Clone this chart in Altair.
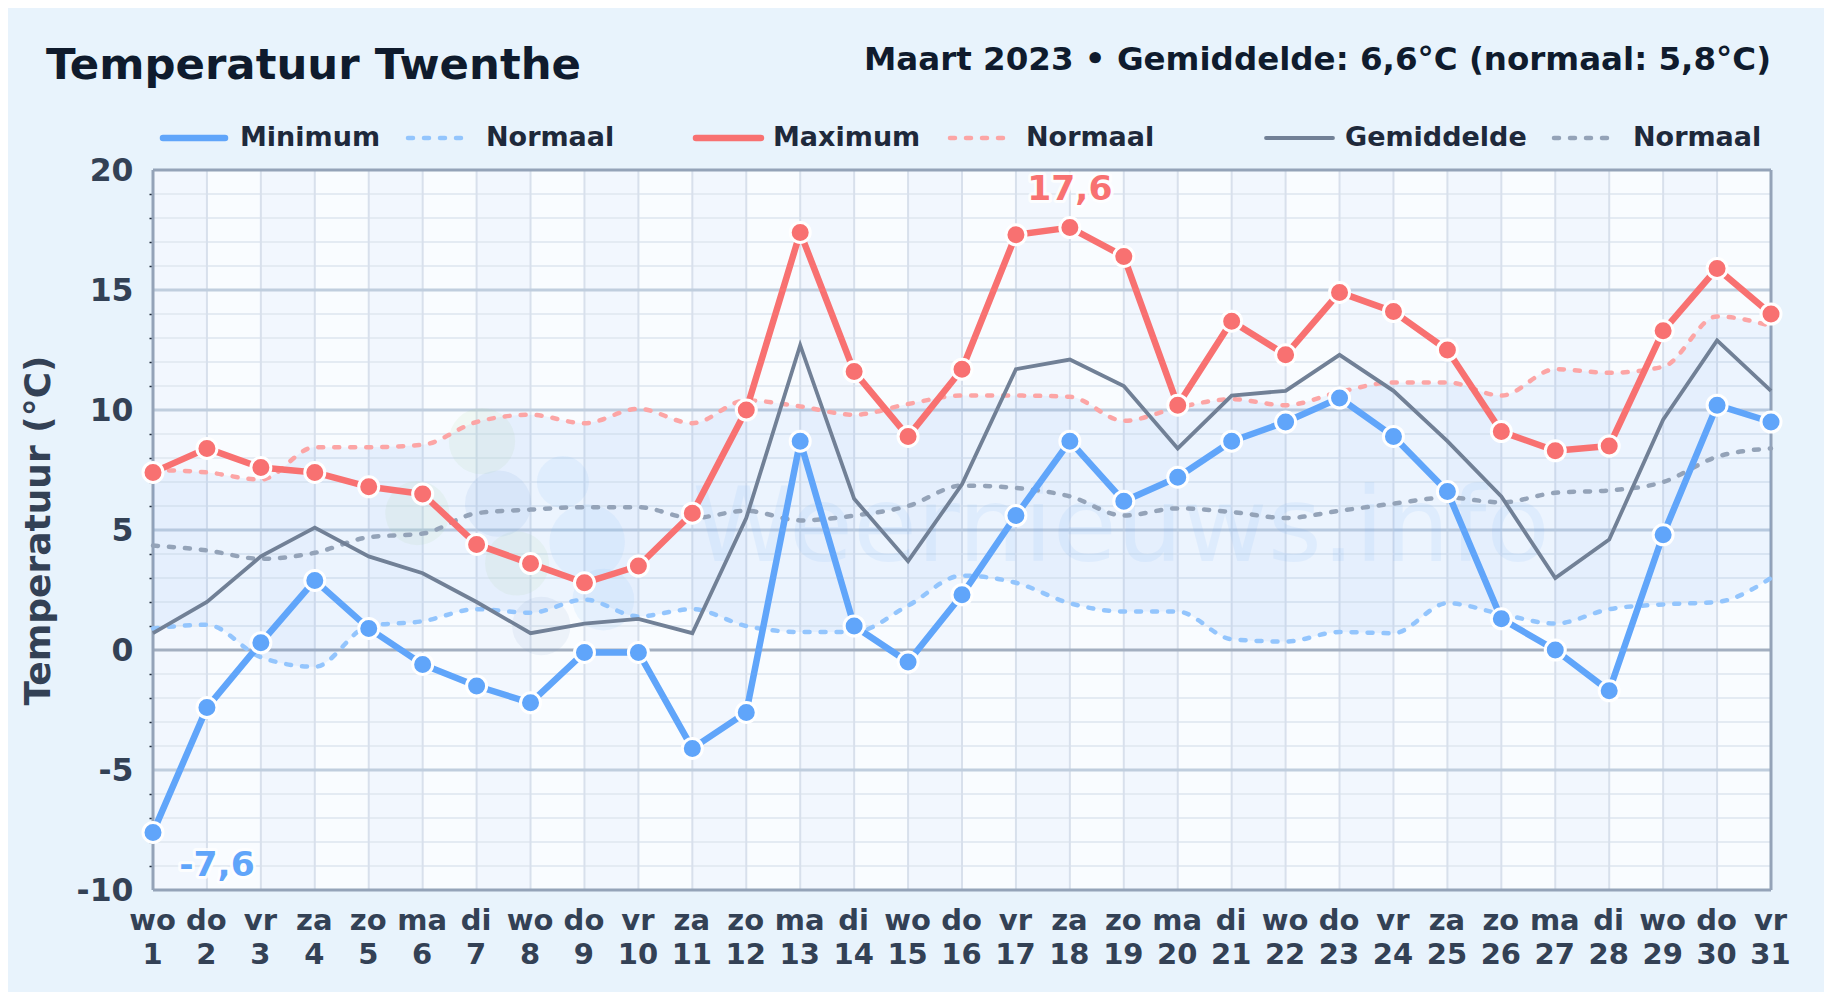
import altair as alt
import pandas as pd

days = list(range(1, 32))
weekdays = ["wo","do","vr","za","zo","ma","di","wo","do","vr","za","zo","ma","di","wo","do","vr","za","zo","ma","di","wo","do","vr","za","zo","ma","di","wo","do","vr"]
t_min = [-7.6,-2.4,0.3,2.9,0.9,-0.6,-1.5,-2.2,-0.1,-0.1,-4.1,-2.6,8.7,1.0,-0.5,2.3,5.6,8.7,6.2,7.2,8.7,9.5,10.5,8.9,6.6,1.3,0.0,-1.7,4.8,10.2,9.5]
t_max = [7.4,8.4,7.6,7.4,6.8,6.5,4.4,3.6,2.8,3.5,5.7,10.0,17.4,11.6,8.9,11.7,17.3,17.6,16.4,10.2,13.7,12.3,14.9,14.1,12.5,9.1,8.3,8.5,13.3,15.9,14.0]
t_mean = [0.7,2.0,3.9,5.1,3.9,3.2,2.0,0.7,1.1,1.3,0.7,5.5,12.7,6.3,3.7,6.9,11.7,12.1,11.0,8.4,10.6,10.8,12.3,10.8,8.7,6.4,3.0,4.6,9.6,12.9,10.8]
n_min = [0.9,1.05,-0.3,-0.7,1.0,1.2,1.7,1.55,2.1,1.4,1.7,1.0,0.75,0.75,1.85,3.1,2.8,1.95,1.6,1.6,0.45,0.35,0.75,0.7,1.95,1.5,1.1,1.7,1.9,2.0,3.0]
n_max = [7.5,7.4,7.1,8.45,8.45,8.55,9.5,9.8,9.45,10.05,9.45,10.4,10.15,9.8,10.25,10.6,10.6,10.55,9.55,10.1,10.45,10.2,10.75,11.15,11.15,10.6,11.7,11.55,11.8,13.9,13.5]
n_mean = [4.35,4.15,3.8,4.05,4.7,4.85,5.7,5.85,5.95,5.95,5.5,5.8,5.4,5.6,6.0,6.85,6.75,6.4,5.6,5.9,5.75,5.5,5.8,6.1,6.35,6.15,6.55,6.65,7.0,8.05,8.4]

minor_deg = list(range(-10, 21))
major_deg = [-5, 5, 10, 15]
zero_deg = [0]
shaded_start = [1, 3, 5, 7, 9, 11, 13, 15, 17, 19, 21, 23, 25, 27, 29]
shaded_end = [2, 4, 6, 8, 10, 12, 14, 16, 18, 20, 22, 24, 26, 28, 30]

# watermark logo blobs
blob_day = [7.1, 5.9, 7.75, 7.4, 8.6, 9.05, 9.35, 8.2]
blob_deg = [8.7, 5.7, 3.6, 6.1, 7.0, 4.5, 2.1, 1.0]
blob_col = ["#a8d890", "#a8d890", "#a8d890", "#6f9fd8", "#78bdf5", "#78bdf5", "#78bdf5", "#7f9fc8"]
blob_size = [4400, 4100, 4100, 4400, 2700, 5700, 3800, 3400]

title_text = "Temperatuur Twenthe"
subtitle_text = "Maart 2023 • Gemiddelde: 6,6°C (normaal: 5,8°C)"
wm_text = "Weernieuws.info"
legend_labels = ["Minimum", "Normaal", "Maximum", "Normaal", "Gemiddelde", "Normaal"]
peak_high = (18, 17.6, "17,6")
peak_low = (1, -7.6, "-7,6")

BG = "#e8f3fc"
FONT = "DejaVu Sans"
C_MIN, C_MAX, C_MEAN = "#60a5fa", "#f87171", "#718096"
C_NMIN, C_NMAX, C_NMEAN = "#93c5fd", "#fca5a5", "#94a3b8"
DASH = [5, 11]

df = pd.DataFrame({"day": days, "tmin": t_min, "tmax": t_max, "tmean": t_mean,
                   "nmin": n_min, "nmax": n_max, "nmean": n_mean})

W, H = 1618, 720
xs = alt.Scale(domain=[1, 31], nice=False, zero=False)
ys = alt.Scale(domain=[-10, 20], nice=False, zero=False)

x_axis = alt.Axis(values=days, labelExpr="[split('" + ",".join(weekdays) + "',',')[datum.value-1], datum.value]",
                  grid=False, domain=False, ticks=False, labelFont=FONT, labelFontWeight="bold", labelFontSize=29,
                  labelColor="#334155", labelOverlap=False, labelFlush=False, labelBound=False,
                  labelPadding=16, labelLineHeight=34, labelOffset=-1, title=None)
y_axis = alt.Axis(values=minor_deg, labelExpr="datum.value % 5 == 0 ? datum.value : ''", grid=False, domain=False,
                  tickSize=4, tickWidth=1.5, tickColor="#1e293b",
                  tickOpacity=alt.condition("datum.value % 5 == 0", alt.value(0), alt.value(1)),
                  labelFont=FONT, labelFontWeight="bold", labelFontSize=31.5, labelColor="#334155",
                  labelPadding=16, labelOffset=1, labelOverlap=False, labelBound=False, labelFlush=False,
                  title="Temperatuur (°C)", titleFont=FONT, titleFontWeight="bold", titleFontSize=36,
                  titleColor="#334155", titleX=-96, titleY=360)

X = lambda f="day": alt.X(f"{f}:Q", scale=xs, axis=x_axis)
Y = lambda f: alt.Y(f"{f}:Q", scale=ys, axis=y_axis)
base = alt.Chart(df)

shade = alt.Chart(pd.DataFrame({"a": shaded_start, "b": shaded_end})).mark_rect(color="#f2f7fe").encode(x=X("a"), x2="b:Q")
grid_minor = alt.Chart(pd.DataFrame({"v": minor_deg})).mark_rule(color="#e4ebf3", strokeWidth=2).encode(y=Y("v"))
grid_major = alt.Chart(pd.DataFrame({"v": major_deg})).mark_rule(color="#c0cede", strokeWidth=3).encode(y=Y("v"))
grid_zero = alt.Chart(pd.DataFrame({"v": zero_deg})).mark_rule(color="#a3afc0", strokeWidth=3).encode(y=Y("v"))
grid_days = alt.Chart(pd.DataFrame({"v": days})).mark_rule(color="#d8e0ec", strokeWidth=2).encode(x=X("v"))
frame_x = alt.Chart(pd.DataFrame({"v": [days[0], days[-1]]})).mark_rule(color="#94a3b8", strokeWidth=3).encode(x=X("v"))
frame_y = alt.Chart(pd.DataFrame({"v": [minor_deg[0], minor_deg[-1]]})).mark_rule(color="#94a3b8", strokeWidth=3).encode(y=Y("v"))

band = base.mark_area(color="#3b82f6", opacity=0.065, interpolate="monotone").encode(x=X(), y=Y("nmin"), y2="nmax:Q")

blobs = alt.Chart(pd.DataFrame({"d": blob_day, "v": blob_deg, "c": blob_col, "s": blob_size})).mark_point(
    filled=True, opacity=0.1, stroke=None
).encode(x=X("d"), y=Y("v"), color=alt.Color("c:N", scale=None), size=alt.Size("s:Q", scale=None))

wm = alt.Chart(pd.DataFrame({"t": [wm_text], "d": [18.95], "v": [5]})).mark_text(
    font=FONT, fontSize=104, color="#60a5fa", opacity=0.09, align="center", baseline="middle"
).encode(x=X("d"), y=Y("v"), text="t:N")

def dashed(f, c):
    return base.mark_line(color=c, strokeWidth=4.5, strokeDash=DASH, strokeCap="round", interpolate="monotone").encode(x=X(), y=Y(f))

l_nmin, l_nmax, l_nmean = dashed("nmin", C_NMIN), dashed("nmax", C_NMAX), dashed("nmean", C_NMEAN)
l_mean = base.mark_line(color=C_MEAN, strokeWidth=3.8).encode(x=X(), y=Y("tmean"))

def main(f, c):
    line = base.mark_line(color=c, strokeWidth=6.5, strokeJoin="round", clip=False).encode(x=X(), y=Y(f))
    pts = base.mark_point(filled=True, fill=c, stroke="white", strokeWidth=3, size=400, opacity=1, clip=False).encode(x=X(), y=Y(f))
    return line + pts

def peak(p, c, dx, dy):
    d = pd.DataFrame({"day": [p[0]], "v": [p[1]], "t": [p[2]]})
    kw = dict(font=FONT, fontWeight="bold", fontSize=34.5, align="center", baseline="middle", dx=dx, dy=dy)
    halo = alt.Chart(d).mark_text(stroke="white", strokeWidth=6, strokeOpacity=0.8, strokeJoin="round", fill="white", **kw)
    front = alt.Chart(d).mark_text(color=c, **kw)
    enc = dict(x=X(), y=Y("v"), text="t:N")
    return halo.encode(**enc) + front.encode(**enc)

# header and legend, placed in pixels relative to the plot area
def txt(s, px, py, size, color, align="left"):
    return alt.Chart(pd.DataFrame({"t": [s]})).mark_text(font=FONT, fontWeight="bold", fontSize=size, color=color,
        align=align, baseline="middle").encode(x=alt.value(px), y=alt.value(py), text="t:N")

def swatch(x0, x1, py, color, width, dash=None):
    kw = dict(strokeDash=dash) if dash else {}
    return alt.Chart(pd.DataFrame({"k": [0]})).mark_rule(color=color, strokeWidth=width, strokeCap="round", **kw).encode(
        x=alt.value(x0), x2=alt.value(x1), y=alt.value(py))

head = [txt(title_text, -107, -104, 43.4, "#0f1b2d"), txt(subtitle_text, 1618, -110, 32.5, "#0f1b2d", "right")]
LEG_Y = -32
leg_pos = [(10, 72, 87, C_MIN, 6.5, None), (255, 310, 333, C_NMIN, 4.5, DASH), (543, 608, 620, C_MAX, 6.5, None),
           (797, 850, 873, C_NMAX, 4.5, DASH), (1113, 1180, 1192, C_MEAN, 3.8, None), (1401, 1464, 1480, C_NMEAN, 4.5, DASH)]
legend = []
for lab, (a, b, t, c, w, d) in zip(legend_labels, leg_pos):
    legend += [swatch(a, b, LEG_Y, c, w, d), txt(lab, t, LEG_Y, 27, "#1e293b")]

chart = alt.layer(
    shade, grid_minor, grid_days, grid_major, grid_zero, frame_x, frame_y, blobs, band, wm,
    l_nmin, l_nmax, l_nmean, l_mean,
    main("tmin", C_MIN), main("tmax", C_MAX),
    peak(peak_high, C_MAX, 0, -38), peak(peak_low, C_MIN, 64, 34),
    *head, *legend
).properties(
    width=W, height=H, background=BG,
    autosize=alt.AutoSizeParams(type="none"),
    padding={"left": 145, "top": 162, "right": 53, "bottom": 102},
).configure_view(fill="#f9fcff", stroke=None)

chart.save("out.html", embed_options={"renderer": "svg", "actions": False})
